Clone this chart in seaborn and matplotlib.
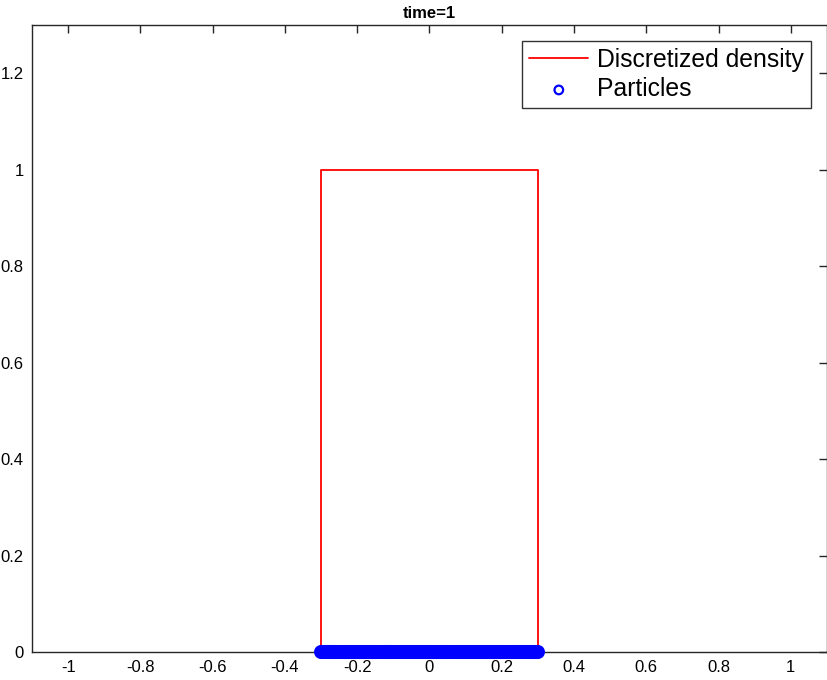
import pandas as pd
import seaborn as sns
import matplotlib.pyplot as plt

sns.set_style("white")
plt.rcParams['font.family'] = ['Liberation Sans', 'DejaVu Sans']
plt.rcParams['text.color'] = 'black'

# density outline (x, rho)
density_x = [-0.3, -0.3, 0.3, 0.3]
density_y = [0.0, 1.0, 1.0, 0.0]

# particle positions on the line y=0
particle_x = [
    -0.300, -0.295, -0.290, -0.285, -0.280, -0.275, -0.270, -0.265, -0.260, -0.255,
    -0.250, -0.245, -0.240, -0.235, -0.230, -0.225, -0.220, -0.215, -0.210, -0.205,
    -0.200, -0.195, -0.190, -0.185, -0.180, -0.175, -0.170, -0.165, -0.160, -0.155,
    -0.150, -0.145, -0.140, -0.135, -0.130, -0.125, -0.120, -0.115, -0.110, -0.105,
    -0.100, -0.095, -0.090, -0.085, -0.080, -0.075, -0.070, -0.065, -0.060, -0.055,
    -0.050, -0.045, -0.040, -0.035, -0.030, -0.025, -0.020, -0.015, -0.010, -0.005,
    0.000, 0.005, 0.010, 0.015, 0.020, 0.025, 0.030, 0.035, 0.040, 0.045,
    0.050, 0.055, 0.060, 0.065, 0.070, 0.075, 0.080, 0.085, 0.090, 0.095,
    0.100, 0.105, 0.110, 0.115, 0.120, 0.125, 0.130, 0.135, 0.140, 0.145,
    0.150, 0.155, 0.160, 0.165, 0.170, 0.175, 0.180, 0.185, 0.190, 0.195,
    0.200, 0.205, 0.210, 0.215, 0.220, 0.225, 0.230, 0.235, 0.240, 0.245,
    0.250, 0.255, 0.260, 0.265, 0.270, 0.275, 0.280, 0.285, 0.290, 0.295,
    0.300,
]
particle_y = [0.0] * len(particle_x)

x_ticks = [-1, -0.8, -0.6, -0.4, -0.2, 0, 0.2, 0.4, 0.6, 0.8, 1]
x_labels = ['-1', '-0.8', '-0.6', '-0.4', '-0.2', '0', '0.2', '0.4', '0.6', '0.8', '1']
y_ticks = [0, 0.2, 0.4, 0.6, 0.8, 1, 1.2]
y_labels = ['0', '0.2', '0.4', '0.6', '0.8', '1', '1.2']

fig = plt.figure(figsize=(8.28, 6.80), dpi=100)
ax = fig.add_axes([32 / 828, 28 / 680, 795 / 828, 627 / 680])

dens = pd.DataFrame({'x': density_x, 'rho': density_y})
parts = pd.DataFrame({'x': particle_x, 'y': particle_y})

sns.lineplot(data=dens, x='x', y='rho', sort=False, estimator=None, color='red',
             linewidth=1.3, label='Discretized density', ax=ax)
sns.scatterplot(data=parts, x='x', y='y', marker='o', s=60, facecolor='none',
                edgecolor='blue', linewidth=2.4, label='Particles', ax=ax,
                clip_on=False, zorder=5)

ax.set_xlim(-1.1, 1.1)
ax.set_ylim(0, 1.3)
ax.set_xticks(x_ticks)
ax.set_xticklabels(x_labels)
ax.set_yticks(y_ticks)
ax.set_yticklabels(y_labels)
ax.set_xlabel('')
ax.set_ylabel('')
ax.tick_params(direction='in', length=6, width=1, colors='#262626', labelsize=12,
               top=True, right=True, labelcolor='black', pad=6)
for s in ax.spines.values():
    s.set_color('#262626')
    s.set_linewidth(1.0)

ax.set_title('time=1', fontsize=12, fontweight='bold', pad=5)

leg = ax.legend(loc='upper right', fontsize=17.8, frameon=True, fancybox=False,
                edgecolor='black', borderaxespad=0.65, handlelength=2.4,
                handletextpad=0.35, borderpad=0.28, labelspacing=0.22,
                markerscale=0.8)
leg.get_frame().set_linewidth(1.0)
leg.legend_handles[1].set_linewidth(1.6)

fig.savefig('out.png', dpi=100)
